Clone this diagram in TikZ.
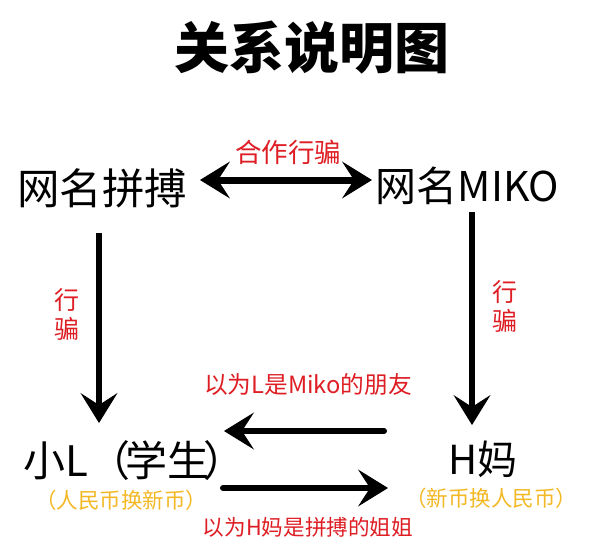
\documentclass[tikz,border=0pt]{standalone}
\usepackage{fontspec}
\setmainfont{Noto Sans CJK SC}
\usetikzlibrary{arrows.meta}
\definecolor{lblred}{RGB}{222,30,36}
\definecolor{lblorange}{RGB}{243,184,36}
\begin{document}
\begin{tikzpicture}[x=1pt,y=-1pt,
  every node/.style={inner sep=0pt, outer sep=0pt},
  titletext/.style={font=\fontsize{55}{55}\selectfont\bfseries},
  bigtext/.style={font=\fontsize{42.5}{42.5}\selectfont},
  redlbl/.style={text=lblred},
  vlbl/.style={text=lblred, font=\fontsize{25}{29}\selectfont, align=center},
  orlbl/.style={text=lblorange, font=\fontsize{21.5}{22}\selectfont},
  tip/.tip={Stealth[length=30pt,width=37pt,inset=12pt,line width=1pt]},
  thickarrow/.style={line width=6pt, -tip},
  dblarrow/.style={line width=7pt, tip-tip},
  flatarrow/.style={line width=6pt, line cap=round, -tip}
]
\useasboundingbox (0,0) rectangle (591,544);
\fill[white] (0,0) rectangle (591,544);
\node[titletext] (title) at (312,48) {关系说明图};
\node[bigtext] (pb) at (102,188) {网名拼搏};
\node[font=\fontsize{41}{41}\selectfont] (mk) at (467.5,186) {网名MIKO};
\node[redlbl, font=\fontsize{26.5}{26.5}\selectfont] (hz) at (288,152) {合作行骗};
\node[font=\fontsize{42}{42}\selectfont, anchor=west] (xl) at (23,461) {小L\kern1pt（\kern-5pt学生\kern-6pt）};
\node[font=\fontsize{40}{40}\selectfont] (hm) at (483,459) {H妈};
\node[orlbl] (xl2) at (121,500) {（人民币换新币）};
\node[orlbl] (hm2) at (491,498) {（新币换人民币）};
\node[redlbl, font=\fontsize{23.7}{24}\selectfont] (l1) at (308,385) {以为L是Miko的朋友};
\node[redlbl, font=\fontsize{21.6}{22}\selectfont] (l2) at (308,527) {以为H妈是拼搏的姐姐};
\node[vlbl] (xp1) at (67,314) {行\\骗};
\node[vlbl] (xp2) at (505,306) {行\\骗};
\draw[dblarrow] ([shift={(98,-8)}]pb.center) -- ([shift={(-95.5,-6)}]mk.center);
\draw[thickarrow] ([shift={(-3,45)}]pb.center) -- ([shift={(76,-38)}]xl.west);
\draw[thickarrow] ([shift={(4.5,26)}]mk.center) -- ([shift={(-11,-34)}]hm.center);
\draw[flatarrow] ([shift={(-99,-28)}]hm.center) -- ([shift={(201,-30)}]xl.west);
\draw[flatarrow] ([shift={(200,27)}]xl.west) -- ([shift={(-95,29)}]hm.center);
\end{tikzpicture}
\end{document}
